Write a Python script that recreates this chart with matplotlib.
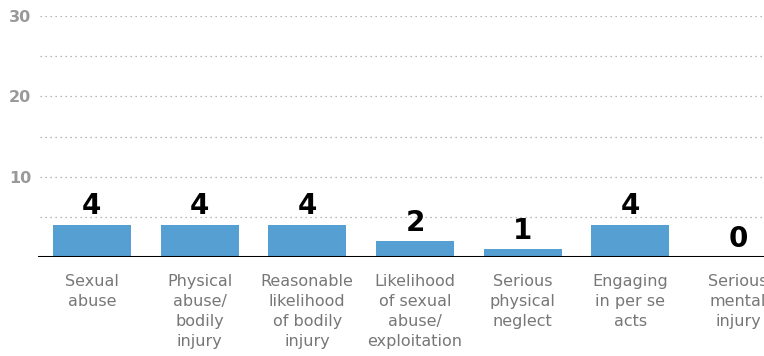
import matplotlib
matplotlib.use("Agg")
import matplotlib.pyplot as plt

categories = [
    "Sexual\nabuse",
    "Physical\nabuse/\nbodily\ninjury",
    "Reasonable\nlikelihood\nof bodily\ninjury",
    "Likelihood\nof sexual\nabuse/\nexploitation",
    "Serious\nphysical\nneglect",
    "Engaging\nin per se\nacts",
    "Serious\nmental\ninjury",
]
counts = [4, 4, 4, 2, 1, 4, 0]
major_ticks = [10, 20, 30]
minor_ticks = [5, 15, 25]

bar_color = "#559fd3"
grid_color = "#a0a0a0"

fig = plt.figure(figsize=(7.64, 3.56), dpi=100)
ax = fig.add_axes([0.0497, 0.278, 0.9503, 0.677])

x = list(range(len(categories)))
ax.bar(x, counts, width=0.725, color=bar_color, zorder=3)

for xi, v in zip(x, counts):
    ax.text(xi, v + 0.55, str(v), ha="center", va="bottom",
            fontsize=20, fontweight="heavy", family="DejaVu Sans", color="black")

ax.set_xlim(-0.5, 6.24)
ax.set_ylim(0, 30)

# dotted gridlines at every 5
for y in major_ticks + minor_ticks:
    ax.axhline(y, xmin=0.003, color=grid_color, linestyle=(0, (1, 3)),
               linewidth=0.9, zorder=1)

ax.axhline(0, color="black", linewidth=2.2, zorder=4)

ax.set_yticks(major_ticks)
ax.set_yticklabels([str(t) for t in major_ticks], fontsize=11.5,
                   fontweight="bold", family="DejaVu Sans", color="#999999")
ax.tick_params(axis="y", length=0, pad=5)

ax.set_xticks(x)
ax.set_xticklabels(categories, fontsize=11.5, family="DejaVu Sans", color="#777777",
                   linespacing=1.42, va="top")
ax.tick_params(axis="x", length=0, pad=12)

for s in ax.spines.values():
    s.set_visible(False)

fig.savefig("out.png", dpi=100)
